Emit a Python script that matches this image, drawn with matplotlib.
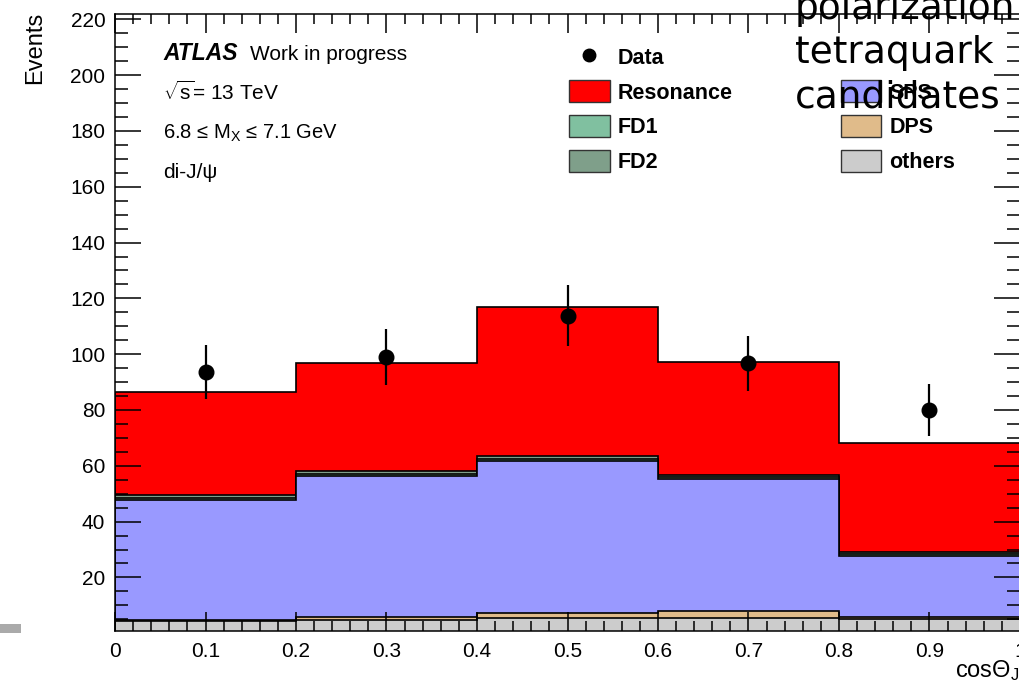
import numpy as np
import matplotlib
matplotlib.use("Agg")
import matplotlib.pyplot as plt
from matplotlib.patches import Patch, Rectangle
from matplotlib.lines import Line2D
from matplotlib.ticker import FixedLocator, MultipleLocator

plt.rcParams['font.family'] = ['Liberation Sans', 'DejaVu Sans']
plt.rcParams['mathtext.fontset'] = 'custom'
plt.rcParams['mathtext.rm'] = 'Liberation Sans'
plt.rcParams['mathtext.it'] = 'Liberation Sans:italic'
plt.rcParams['mathtext.bf'] = 'Liberation Sans:bold'

# binning in cos(theta)
bin_edges = [0.0, 0.2, 0.4, 0.6, 0.8, 1.0]

# stack components (events per bin), bottom to top
others = [4.5, 4.7, 5.5, 5.5, 5.0]
dps = [0.3, 1.1, 1.8, 2.4, 0.9]
sps = [42.9, 50.5, 54.4, 47.3, 21.8]
fd1 = [0.9, 0.9, 0.9, 0.8, 0.8]
fd2 = [0.9, 0.9, 0.9, 0.7, 0.7]
resonance = [36.8, 38.6, 53.3, 40.6, 38.8]

# data points
data_x = [0.1, 0.3, 0.5, 0.7, 0.9]
data_y = [93.7, 99.1, 113.8, 96.7, 80.0]
data_err = [9.6, 10.0, 10.9, 9.8, 9.2]

xticks = [0.0, 0.1, 0.2, 0.3, 0.4, 0.5, 0.6, 0.7, 0.8, 0.9, 1.0]
xtick_labels = ['0', '0.1', '0.2', '0.3', '0.4', '0.5', '0.6', '0.7', '0.8', '0.9', '1']
yticks = [20, 40, 60, 80, 100, 120, 140, 160, 180, 200, 220]

W, H = 1019, 682
def fx(px):
    return px / W
def fy(py):
    return 1 - py / H

fig = plt.figure(figsize=(W / 100, H / 100), dpi=100)
ax = fig.add_axes([fx(115), fy(631), 905 / W, (631 - 14.3) / H])

layers = [
    ('others', others, '#cccccc'),
    ('DPS', dps, '#e0bb8a'),
    ('SPS', sps, '#9999ff'),
    ('FD1', fd1, '#80c0a0'),
    ('FD2', fd2, '#7f9f8a'),
    ('Resonance', resonance, '#ff0000'),
]
cum = np.cumsum([np.array(v) for _, v, _ in layers], axis=0)
handles = {}
# draw the largest cumulative first so the lower ones sit on top
for i in range(len(layers) - 1, -1, -1):
    name, _, col = layers[i]
    ax.stairs(cum[i], bin_edges, baseline=0, fill=True, facecolor=col,
              edgecolor='black', linewidth=1.2, zorder=1)
    handles[name] = Patch(facecolor=col, edgecolor='#333333', linewidth=1)

ax.errorbar(data_x, data_y, yerr=data_err, fmt='o', color='black', ms=10.5,
            elinewidth=1.6, capsize=0, zorder=3)

ax.set_xlim(0, 1)
ax.set_ylim(0.8, 221.8)
ax.xaxis.set_major_locator(FixedLocator(xticks))
ax.set_xticklabels(xtick_labels)
ax.xaxis.set_minor_locator(MultipleLocator(0.02))
ax.yaxis.set_major_locator(FixedLocator(yticks))
ax.yaxis.set_minor_locator(MultipleLocator(5))
ax.tick_params(which='both', direction='in', top=True, right=True, width=1.1,
               labelsize=15, color='black')
ax.tick_params(axis='y', which='major', length=19, pad=7)
ax.tick_params(axis='y', which='minor', length=9.5)
ax.tick_params(axis='x', which='major', length=13.5, pad=8)
ax.tick_params(axis='x', which='minor', length=7)
for s in ax.spines.values():
    s.set_linewidth(1.1)

data_handle = Line2D([], [], marker='o', color='black', linestyle='none', ms=9)
blank = Line2D([], [], linestyle='none')
leg_handles = [data_handle, handles['Resonance'], handles['FD1'], handles['FD2'],
               blank, handles['SPS'], handles['DPS'], handles['others']]
leg_labels = ['Data', 'Resonance', 'FD1', 'FD2', '', 'SPS', 'DPS', 'others']
ax.legend(leg_handles, leg_labels, ncol=2, loc='upper left',
          bbox_to_anchor=(fx(569), fy(45.5)), bbox_transform=fig.transFigure,
          frameon=False, borderpad=0, borderaxespad=0,
          prop={'weight': 'bold', 'size': 15.5},
          handlelength=1.9, handleheight=1.21, handletextpad=0.37,
          labelspacing=0.53, columnspacing=5.0)

fig.text(fx(163), fy(60), 'ATLAS', fontsize=16.5, weight='bold',
         style='italic', va='baseline')
fig.text(fx(250), fy(60), 'Work in progress', fontsize=15, va='baseline')
fig.text(fx(163), fy(100), '$\\sqrt{\\mathrm{s}}$= 13 TeV', fontsize=15, va='baseline')
fig.text(fx(163), fy(139), '6.8 ≤ M$_{\\mathrm{X}}$ ≤ 7.1 GeV', fontsize=14.5, va='baseline')
fig.text(fx(163), fy(178), 'di-J/ψ', fontsize=15, va='baseline')

fig.text(fx(35), fy(12), 'Events', fontsize=17, rotation=90, ha='center', va='top')
fig.text(fx(955), fy(677), 'cosΘ$_{\\mathrm{J/}\\psi}$', fontsize=17,
         ha='left', va='baseline')

fig.text(fx(795), fy(-9), 'polarization\ntetraquark\ncandidates', fontsize=27,
         family='DejaVu Sans', va='top', ha='left', linespacing=1.3, zorder=5)

fig.add_artist(Rectangle((0, fy(633)), fx(21), 9 / H, transform=fig.transFigure,
                         facecolor='#aaaaaa', edgecolor='none'))

fig.savefig('out.png', dpi=100)
